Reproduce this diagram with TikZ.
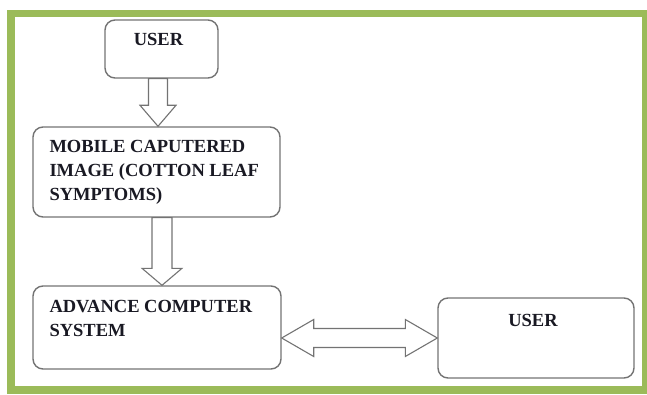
\documentclass[tikz,border=0pt]{standalone}
\usepackage{fontspec}
\setmainfont{Liberation Serif}
\usetikzlibrary{positioning,calc}
\definecolor{framegreen}{RGB}{155,187,89}
\definecolor{boxgray}{RGB}{115,115,115}
\definecolor{labelink}{RGB}{25,25,35}
\tikzset{
  box/.style={draw=boxgray,line width=1.4pt,rounded corners=10pt,inner sep=0pt},
  boxtext/.style={inner sep=0pt,align=left,text=labelink,
    font=\fontsize{18.5pt}{24pt}\selectfont\bfseries},
  blockarrow/.style={draw=boxgray,line width=1.1pt,line join=miter}
}

\begin{document}
\begin{tikzpicture}[x=1pt,y=1pt]
\useasboundingbox (0,0) rectangle (647,-395);
\draw[framegreen,line width=7.5pt] (11,-13.5) rectangle (646,-390);

% boxes
\node[box,minimum width=113pt,minimum height=58pt] (user1) at (161.5,-49) {};
\node[box,minimum width=247pt,minimum height=90pt] (mobile) at (156.5,-172) {};
\node[box,minimum width=248pt,minimum height=83pt] (advance) at (157,-327.5) {};
\node[box,minimum width=196pt,minimum height=80pt] (user2) at (536,-338) {};

% texts
\node[boxtext,below=26pt of user1.north,anchor=base,xshift=-3pt] (user1txt) {USER};
\node[boxtext,below right=14pt and 17pt of mobile.north west] (mobiletxt)
  {MOBILE CAPUTERED\\IMAGE (COTTON LEAF\\SYMPTOMS)};
\node[boxtext,below right=15pt and 17pt of advance.north west] (advancetxt)
  {ADVANCE COMPUTER\\SYSTEM};
\node[boxtext,below=29pt of user2.north,anchor=base,xshift=-3pt] (user2txt) {USER};

% block arrows
\draw[blockarrow] let \p1=(user1.south), \p2=($(mobile.north)+(1.5,0)$) in
  (\x2,\y2) -- (\x2+18,\y2+21) -- (\x2+9.5,\y2+21) -- (\x2+9.5,\y1)
  -- (\x2-9.5,\y1) -- (\x2-9.5,\y2+21) -- (\x2-18,\y2+21) -- cycle;
\draw[blockarrow] let \p1=(mobile.south), \p2=($(advance.north)+(5,0)$) in
  (\x2,\y2) -- (\x2+20,\y2+17) -- (\x2+10,\y2+17) -- (\x2+10,\y1)
  -- (\x2-10,\y1) -- (\x2-10,\y2+17) -- (\x2-20,\y2+17) -- cycle;
\draw[blockarrow] let \p1=(advance.east), \p2=(user2.west) in
  (\x1,\y2) -- (\x1+32,\y2+18.5) -- (\x1+32,\y2+9.5) -- (\x2-32,\y2+9.5)
  -- (\x2-32,\y2+18.5) -- (\x2,\y2) -- (\x2-32,\y2-18.5) -- (\x2-32,\y2-9.5)
  -- (\x1+32,\y2-9.5) -- (\x1+32,\y2-18.5) -- cycle;
\end{tikzpicture}
\end{document}
